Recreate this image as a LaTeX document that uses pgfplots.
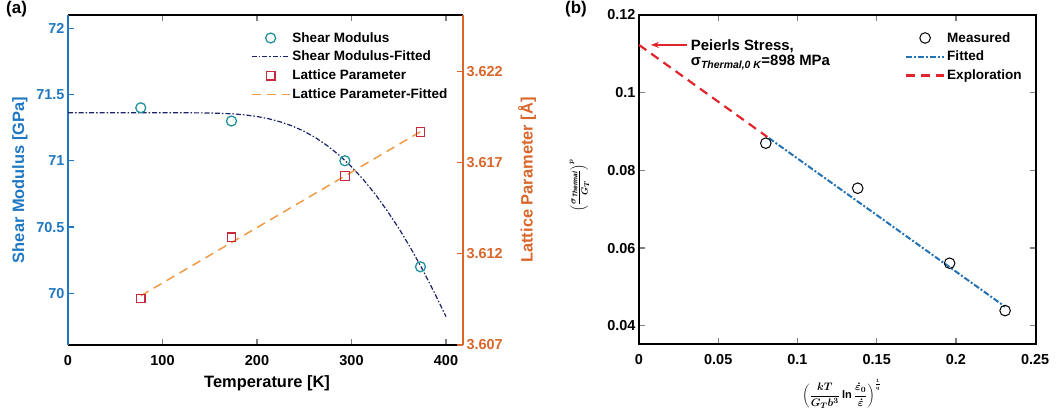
\documentclass[border=0pt]{standalone}
\usepackage{fontspec}
\setmainfont{Liberation Sans}
\usepackage{pgfplots}
\pgfplotsset{compat=1.18}
\usetikzlibrary{arrows.meta}

\definecolor{gblue}{HTML}{1F78C1}
\definecolor{lorange}{HTML}{D9662A}
\definecolor{circteal}{HTML}{22939A}
\definecolor{sqred}{HTML}{C8283C}
\definecolor{navy}{HTML}{1E2266}
\definecolor{dashorange}{HTML}{F09A46}
\definecolor{fitblue}{HTML}{2272B4}
\definecolor{exred}{HTML}{E0262C}

\pgfplotsset{
  panel/.style={
    scale only axis, anchor=south west,
    tick align=inside, major tick length=6bp,
    axis line style={line width=1.4bp},
    every tick/.append style={line width=1.2bp},
    /pgf/number format/assume math mode=true,
    ticklabel style={font=\fontsize{14.5}{16}\selectfont\bfseries},
    xticklabel style={yshift=-7bp},
    label style={font=\fontsize{16.5}{18}\selectfont\bfseries},
    scaled ticks=false,
    legend style={draw=none, fill=none, anchor=north west,
      font=\fontsize{13.6}{15}\selectfont\bfseries, row sep=3.5bp},
    legend cell align=left,
    legend image code/.code={
      \draw[mark repeat=2, mark phase=2, #1] plot coordinates {(0bp,0bp) (19bp,0bp) (38bp,0bp)};
    },
  },
}

\begin{document}
\begin{tikzpicture}
\useasboundingbox (0,0) rectangle (1061bp,417bp);

% (a) shear modulus, left axis
\begin{axis}[panel,
  at={(68bp,72bp)}, width=395bp, height=330bp,
  xmin=0, xmax=418, ymin=69.61, ymax=72.1,
  axis y line*=left,
  xtick={0,100,200,300,400},
  ytick={70,70.5,71,71.5,72},
  y axis line style={gblue},
  y tick style={gblue},
  yticklabel style={gblue},
  xlabel={Temperature [K]},
  xlabel style={at={(axis description cs:0.504,-0.115)}, anchor=center},
  ylabel={Shear Modulus [GPa]},
  ylabel style={gblue, at={(axis description cs:-0.122,0.5)}, anchor=center},
]
\addplot[only marks, mark=o, mark size=5bp, circteal, line width=1.3bp]
  coordinates {(77,71.40) (173,71.30) (293,71.00) (373,70.20)};
\addplot[navy, line width=1.2bp, dash pattern=on 5bp off 2bp on 1.5bp off 2bp]
  coordinates {(0,71.363) (50,71.363) (100,71.363) (150,71.361) (175,71.354)
  (187.5,71.346) (200,71.334) (212.5,71.317) (225,71.293) (237.5,71.262)
  (250,71.222) (262.5,71.172) (275,71.111) (287.5,71.039) (300,70.955)
  (312.5,70.858) (325,70.749) (337.5,70.626) (350,70.491) (362.5,70.343)
  (375,70.182) (387.5,70.008) (400,69.824)};
\end{axis}

% (a) lattice parameter, right axis
\begin{axis}[panel,
  at={(68bp,72bp)}, width=395bp, height=330bp,
  xmin=0, xmax=418, ymin=3.607, ymax=3.6251,
  axis y line*=right, axis x line=none,
  ytick={3.607,3.612,3.617,3.622},
  y axis line style={lorange},
  y tick style={lorange},
  yticklabel style={lorange, /pgf/number format/fixed, /pgf/number format/precision=3},
  ylabel={Lattice Parameter [Å]},
  ylabel style={lorange, at={(axis description cs:1.162,0.5)}, anchor=center},
  legend style={at={(0.455,0.96)}},
]
\addlegendimage{only marks, mark=o, mark size=5bp, circteal, line width=1.3bp}
\addlegendentry{Shear Modulus}
\addlegendimage{navy, line width=1.2bp, dash pattern=on 5bp off 2bp on 1.5bp off 2bp}
\addlegendentry{Shear Modulus-Fitted}
\addplot[only marks, mark=square, mark size=4.3bp, sqred, line width=1.3bp]
  coordinates {(77,3.60955) (173,3.6129) (293,3.61627) (373,3.61868)};
\addlegendentry{Lattice Parameter}
\addplot[dashorange, line width=1.5bp, dash pattern=on 9bp off 6bp]
  coordinates {(77,3.6097) (373,3.6187)};
\addlegendentry{Lattice Parameter-Fitted}
\end{axis}

% (b)
\begin{axis}[panel,
  at={(639bp,73bp)}, width=397bp, height=329bp,
  xmin=0, xmax=0.2505, ymin=0.0353, ymax=0.12,
  xtick={0,0.05,0.1,0.15,0.2,0.25},
  ytick={0.04,0.06,0.08,0.1,0.12},
  xticklabel style={/pgf/number format/fixed, /pgf/number format/precision=2},
  yticklabel style={/pgf/number format/fixed, /pgf/number format/precision=2},
  xlabel={$\displaystyle\left(\frac{kT}{G_T b^3}\ln\frac{\dot{\varepsilon}_0}{\dot{\varepsilon}}\right)^{\frac{1}{q}}$},
  xlabel style={font=\fontsize{11}{12}\selectfont\boldmath,
    at={(axis description cs:0.511,-0.152)}, anchor=center},
  ylabel={$\displaystyle\left(\frac{\sigma_{\mathit{Thermal}}}{G_T}\right)^{p}$},
  ylabel style={font=\fontsize{9.5}{11}\selectfont\boldmath,
    at={(axis description cs:-0.15,0.483)}, anchor=center},
  legend style={at={(0.662,0.96)}},
]
\addplot[only marks, mark=o, mark size=5.3bp, black, line width=1bp]
  coordinates {(0.080,0.0870) (0.138,0.0754) (0.196,0.0561) (0.231,0.0439)};
\addlegendentry{Measured}
\addplot[fitblue, line width=2bp, dash pattern=on 6bp off 2bp on 2bp off 2bp]
  coordinates {(0.082,0.0883) (0.231,0.0449)};
\addlegendentry{Fitted}
\addplot[exred, line width=2.2bp, dash pattern=on 9bp off 6bp]
  coordinates {(0,0.1123) (0.081,0.0886)};
\addlegendentry{Exploration}
\draw[exred, line width=1.4bp, -{Stealth[length=8bp, width=6bp]}]
  (axis cs:0.0305,0.1123) -- (axis cs:0.0075,0.1123);
\node[anchor=north west, inner sep=0pt, align=left,
  font=\fontsize{15}{15.5}\selectfont\bfseries]
  at (axis cs:0.0326,0.1138)
  {Peierls Stress,\\σ\textsubscript{\itshape Thermal,0 K}=898 MPa};
\end{axis}

\node[anchor=north west, inner sep=0pt, font=\fontsize{17}{18}\selectfont\bfseries]
  at (6bp,416bp) {(a)};
\node[anchor=north west, inner sep=0pt, font=\fontsize{17}{18}\selectfont\bfseries]
  at (565bp,416bp) {(b)};
\end{tikzpicture}
\end{document}
